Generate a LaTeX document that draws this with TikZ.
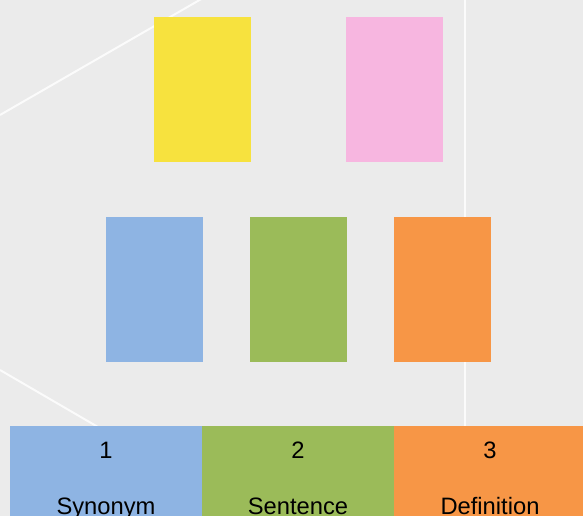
\documentclass[tikz,border=0pt]{standalone}
\usepackage{fontspec}
\setmainfont{Liberation Sans}
\definecolor{bg}{HTML}{EBEBEB}
\definecolor{cyellow}{HTML}{F7E23E}
\definecolor{cpink}{HTML}{F7B6E0}
\definecolor{cblue}{HTML}{8EB4E3}
\definecolor{cgreen}{HTML}{9BBB59}
\definecolor{corange}{HTML}{F79646}
\begin{document}
\begin{tikzpicture}[x=0.75pt,y=-0.75pt,
  card/.style={draw=none,inner sep=0pt,minimum width=72.75pt,minimum height=108.75pt,anchor=north west},
  cell/.style={draw=none,inner sep=0pt,minimum width=144pt,minimum height=75pt,anchor=north west},
  lbl/.style={font=\fontsize{17.8pt}{20pt}\selectfont,anchor=base,inner sep=0pt},
  bgline/.style={draw=white,line width=1.5pt,opacity=0.8}]
\useasboundingbox (0,0) rectangle (583,516);
\clip (0,0) rectangle (583,516);
\fill[bg] (0,0) rectangle (583,516);
\coordinate (l1a) at (0,115);
\coordinate (l1b) at (210,-6);
\coordinate (l2a) at (465,0);
\coordinate (l2b) at (465,516);
\coordinate (l3a) at (0,370);
\coordinate (l3b) at (110,434);
\draw[bgline] (l1a) -- (l1b);
\draw[bgline] (l2a) -- (l2b);
\draw[bgline] (l3a) -- (l3b);
\node[card,fill=cyellow] (yel) at (154,17) {};
\node[card,fill=cpink] (pnk) at (346,17) {};
\node[card,fill=cblue] (blu) at (106,217) {};
\node[card,fill=cgreen] (grn) at (250,217) {};
\node[card,fill=corange] (org) at (394,217) {};
\node[cell,fill=cblue] (c1) at (10,426) {};
\node[cell,fill=cgreen] (c2) at (202,426) {};
\node[cell,fill=corange] (c3) at (394,426) {};
\node[lbl] (n1) at (106,459) {1};
\node[lbl] (n2) at (298,459) {2};
\node[lbl] (n3) at (490,459) {3};
\node[lbl] (t1) at (106,515) {Synonym};
\node[lbl] (t2) at (298,515) {Sentence};
\node[lbl] (t3) at (490,515) {Definition};
\end{tikzpicture}
\end{document}
